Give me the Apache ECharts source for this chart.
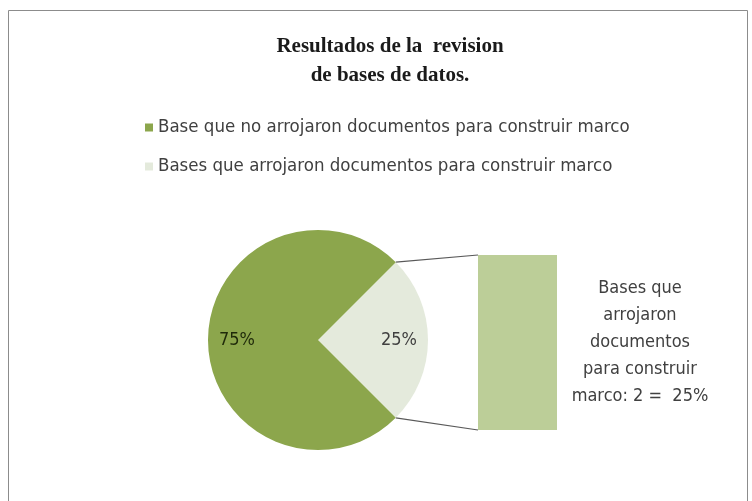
<!DOCTYPE html>
<html>
<head>
<meta charset="utf-8">
<script src="https://cdn.jsdelivr.net/npm/echarts@6/dist/echarts.min.js"></script>
<style>
html,body{margin:0;padding:0;background:#fff;}
#c{width:752px;height:501px;}
</style>
</head>
<body>
<div id="c"></div>
<script>
const titleLines = ['Resultados de la  revision', 'de bases de datos.'];
const categories = ['Base que no arrojaron documentos para construir marco', 'Bases que arrojaron documentos para construir marco'];
const values = [6, 2];
const barCategories = ['Bases que arrojaron documentos para construir marco'];
const barValues = [2];
const barLabelLines = ['Bases que', 'arrojaron', 'documentos', 'para construir', 'marco: 2 =  25%'];

const colors = ['#8CA64C', '#E4EADC'];
const barColor = '#BCCE98';
const narrow = "'Liberation Sans Narrow', 'DejaVu Sans Condensed', 'Noto Sans', sans-serif";

const total = values.reduce((a, b) => a + b, 0);
const splitShare = values[1] / total;
const startAngle = 360 * splitShare / 2;

const pieCenter = [318, 340];
const pieR = 110;
const grid = { left: 478, top: 255, width: 79, height: 175 };

// pie data ordered so the split slice sits on the right
const pieData = [
  { name: categories[1], value: values[1], itemStyle: { color: colors[1] }, label: { color: '#404040' } },
  { name: categories[0], value: values[0], itemStyle: { color: colors[0] }, label: { color: '#1F2A0A' } }
];

const chart = echarts.init(document.getElementById('c'), null, { renderer: 'canvas' });

const option = {
  backgroundColor: '#fff',
  animation: false,
  title: {
    text: titleLines.join('\n'),
    left: 385,
    textAlign: 'center',
    top: 27,
    textStyle: {
      fontFamily: "'Liberation Serif', 'DejaVu Serif', serif",
      fontWeight: 'bold',
      fontSize: 21,
      lineHeight: 29,
      color: '#1A1A1A'
    }
  },
  legend: {
    orient: 'vertical',
    left: 140,
    top: 113,
    itemGap: 20,
    itemWidth: 8,
    itemHeight: 8,
    icon: 'rect',
    data: categories,
    textStyle: { fontFamily: narrow, fontSize: 18.5, color: '#404040' }
  },
  grid: grid,
  xAxis: { type: 'category', data: barCategories, show: false },
  yAxis: { type: 'value', min: 0, max: barValues[0], show: false },
  series: [
    {
      type: 'pie',
      center: pieCenter,
      radius: [0, pieR],
      startAngle: startAngle,
      clockwise: true,
      data: pieData,
      label: { show: false },
      labelLine: { show: false },
      silent: true
    },
    {
      type: 'pie',
      center: pieCenter,
      radius: [46, pieR],
      startAngle: startAngle,
      clockwise: true,
      data: pieData.map(d => ({ name: d.name, value: d.value, label: d.label })),
      itemStyle: { color: 'rgba(0,0,0,0)' },
      label: {
        show: true,
        position: 'inside',
        formatter: p => Math.round(p.percent) + '%',
        fontFamily: narrow,
        fontSize: 18
      },
      labelLine: { show: false },
      silent: true,
      legendHoverLink: false
    },
    {
      type: 'bar',
      data: barValues,
      barWidth: '100%',
      itemStyle: { color: barColor },
      label: {
        show: true,
        position: [162, '50%'],
        align: 'center',
        verticalAlign: 'middle',
        formatter: barLabelLines.join('\n'),
        fontFamily: narrow,
        fontSize: 18,
        lineHeight: 27,
        color: '#404040'
      },
      silent: true
    }
  ]
};
chart.setOption(option);

// connector lines from pie split edges to the bar corners
const rad = startAngle * Math.PI / 180;
const pTop = [pieCenter[0] + pieR * Math.cos(rad), pieCenter[1] - pieR * Math.sin(rad)];
const pBot = [pieCenter[0] + pieR * Math.cos(rad), pieCenter[1] + pieR * Math.sin(rad)];
const yTop = chart.convertToPixel({ yAxisIndex: 0 }, barValues[0]);
const yBot = chart.convertToPixel({ yAxisIndex: 0 }, 0);
const xLeft = grid.left;

chart.setOption({
  graphic: [
    { type: 'rect', shape: { x: 8.5, y: 10.5, width: 739, height: 500 }, style: { fill: 'none', stroke: '#8C8C8C', lineWidth: 1 }, silent: true },
    { type: 'line', shape: { x1: pTop[0], y1: pTop[1], x2: xLeft, y2: yTop }, style: { stroke: '#595959', lineWidth: 1.2 }, silent: true },
    { type: 'line', shape: { x1: pBot[0], y1: pBot[1], x2: xLeft, y2: yBot }, style: { stroke: '#595959', lineWidth: 1.2 }, silent: true }
  ]
});
</script>
</body>
</html>
